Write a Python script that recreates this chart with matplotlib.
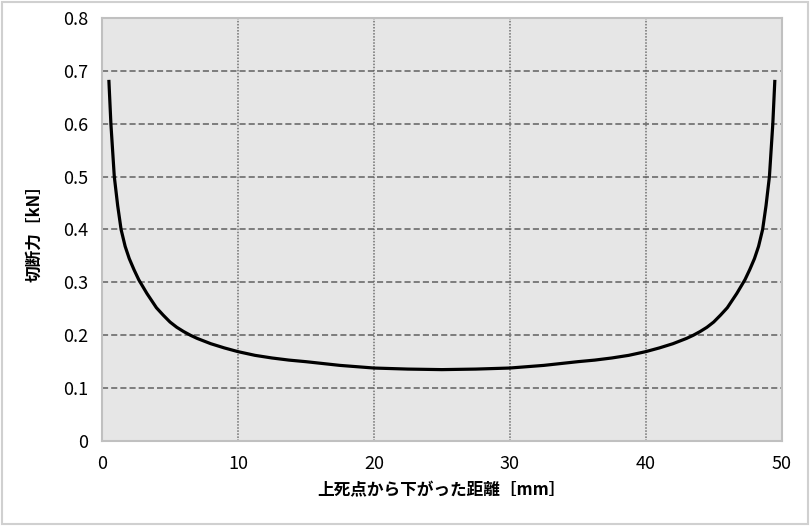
import numpy as np
import matplotlib.pyplot as plt
from matplotlib.patches import Rectangle

plt.rcParams['font.family'] = ['Noto Sans CJK JP', 'DejaVu Sans']

# values
dist_mm = [0.5, 0.65, 0.9, 1.15, 1.4, 1.7, 2.0, 2.35, 2.7, 3.3, 4.0, 4.5, 5.0, 5.5, 6.0, 6.5,
           7.0, 8.0, 9.0, 10, 11.25, 12.5, 13.75, 15, 17.5, 20, 22.5, 25, 27.5, 30, 32.5, 35,
           36.25, 37.5, 38.75, 40, 41, 42, 43, 43.5, 44, 44.5, 45, 45.5, 46, 46.7, 47.3,
           47.65, 48.0, 48.3, 48.6, 48.85, 49.1, 49.35, 49.5]
force_kn = [0.683, 0.60, 0.50, 0.445, 0.40, 0.368, 0.345, 0.324, 0.305, 0.279, 0.252, 0.238, 0.225, 0.215, 0.207, 0.20,
            0.194, 0.184, 0.176, 0.169, 0.162, 0.157, 0.153, 0.150, 0.143, 0.138, 0.136, 0.135, 0.136, 0.138, 0.143, 0.150,
            0.153, 0.157, 0.162, 0.169, 0.176, 0.184, 0.194, 0.20, 0.207, 0.215, 0.225, 0.238, 0.252, 0.279, 0.305,
            0.324, 0.345, 0.368, 0.40, 0.445, 0.50, 0.60, 0.683]
x_ticks = [0, 10, 20, 30, 40, 50]
y_ticks = [0, 0.1, 0.2, 0.3, 0.4, 0.5, 0.6, 0.7, 0.8]
y_labels = ['0', '0.1', '0.2', '0.3', '0.4', '0.5', '0.6', '0.7', '0.8']

fig = plt.figure(figsize=(8.1, 5.26), dpi=100)
fig.patches.append(Rectangle((0.002, 0.003), 0.995, 0.994, transform=fig.transFigure,
                             fill=False, edgecolor='#d0d0d0', linewidth=1.5))
ax = fig.add_axes([0.126, 0.1616, 0.839, 0.8042])
ax.set_facecolor('#e6e6e6')

ax.plot(dist_mm, force_kn, color='black', linewidth=2.3, solid_capstyle='butt',
        solid_joinstyle='round')

ax.set_xlim(0, 50)
ax.set_ylim(0, 0.8)
ax.set_xticks(x_ticks)
ax.set_yticks(y_ticks)
ax.set_yticklabels(y_labels)
ax.tick_params(length=0, labelsize=13, pad=10)
ax.yaxis.grid(True, linestyle=(0, (4, 2)), color='#606060', linewidth=1.1)
ax.xaxis.grid(True, linestyle=(0, (1, 1)), color='#707070', linewidth=1.1)
ax.set_axisbelow(True)
for s in ax.spines.values():
    s.set_color('#c0c0c0')
    s.set_linewidth(1.5)

ax.set_xlabel('上死点から下がった距離［mm］', fontsize=12, fontweight='bold', labelpad=6)
ax.set_ylabel('切断力［kN］', fontsize=12, fontweight='bold', labelpad=14)

fig.savefig('out.png', dpi=100)
